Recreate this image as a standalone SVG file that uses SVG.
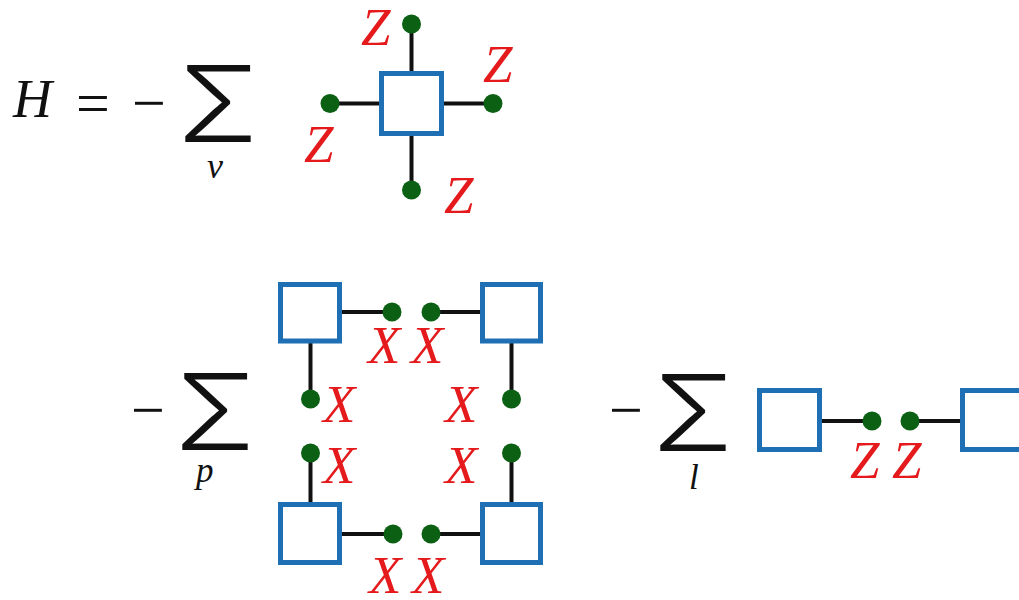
<svg xmlns="http://www.w3.org/2000/svg" width="1019" height="600" viewBox="0 0 1019 600">
<style>
.m{font-family:'Liberation Serif','DejaVu Serif',serif;fill:#111}
.i{font-style:italic}
.sig{font-family:'Inter','Liberation Serif',sans-serif;font-weight:300;font-size:106px;fill:#111;text-anchor:middle}
.lbl{font-family:'Liberation Serif','DejaVu Serif',serif;font-style:italic;font-size:53px;fill:#e41a1c}
.sq{fill:#fff;stroke:#1f6fb5;stroke-width:5}
.ln{stroke:#111;stroke-width:4;fill:none}
.dot{fill:#0b6014}
</style>
<rect width="1019" height="600" fill="#fff"/>
<g id="equation">
<text class="m i" x="13" y="117" font-size="54">H</text>
<text class="m" x="76" y="123" font-size="60">=</text>
<text class="m" x="132" y="123" font-size="60">−</text>
<text class="sig" transform="translate(218,142) scale(1.12,1)">Σ</text>
<text class="m i" x="207" y="178" font-size="36">v</text>
<text class="m" x="131" y="430" font-size="60">−</text>
<text class="sig" transform="translate(215,450) scale(1.12,1)">Σ</text>
<text class="m i" x="196" y="482" font-size="35">p</text>
<text class="m" x="609" y="430" font-size="60">−</text>
<text class="sig" transform="translate(693,451) scale(1.12,1)">Σ</text>
<text class="m i" x="689" y="489" font-size="35">l</text>
</g>
<g id="connectors">
<line class="ln" x1="411.5" y1="24" x2="411.5" y2="190"/>
<line class="ln" x1="330" y1="103.5" x2="493" y2="103.5"/>
<line class="ln" x1="342" y1="312" x2="392" y2="312"/>
<line class="ln" x1="431" y1="312" x2="480" y2="312"/>
<line class="ln" x1="310.5" y1="343" x2="310.5" y2="399"/>
<line class="ln" x1="511.5" y1="343" x2="511.5" y2="399"/>
<line class="ln" x1="310.5" y1="453" x2="310.5" y2="502"/>
<line class="ln" x1="511.5" y1="453" x2="511.5" y2="502"/>
<line class="ln" x1="342" y1="534" x2="393" y2="534"/>
<line class="ln" x1="431" y1="534" x2="480" y2="534"/>
<line class="ln" x1="822" y1="421" x2="872" y2="421"/>
<line class="ln" x1="910" y1="421" x2="960" y2="421"/>
</g>
<g id="vertex">
<rect class="sq" x="381.5" y="73.5" width="60" height="60"/>
<circle class="dot" cx="411.5" cy="24" r="9.5"/>
<circle class="dot" cx="330" cy="103.5" r="9.5"/>
<circle class="dot" cx="493" cy="103.5" r="9.5"/>
<circle class="dot" cx="411.5" cy="190" r="9.5"/>
<text class="lbl" x="361" y="45">Z</text>
<text class="lbl" x="483" y="82">Z</text>
<text class="lbl" x="304" y="162">Z</text>
<text class="lbl" x="444" y="213">Z</text>
</g>
<g id="plaquette">
<rect class="sq" x="280.5" y="284.5" width="59" height="56.5"/>
<rect class="sq" x="482.5" y="284.5" width="58" height="56.5"/>
<rect class="sq" x="280.5" y="504.5" width="59" height="58"/>
<rect class="sq" x="482.5" y="504.5" width="58" height="58"/>
<circle class="dot" cx="392" cy="312" r="9.5"/>
<circle class="dot" cx="431" cy="312" r="9.5"/>
<circle class="dot" cx="310.5" cy="399" r="9.5"/>
<circle class="dot" cx="511.5" cy="399" r="9.5"/>
<circle class="dot" cx="310.5" cy="453" r="9.5"/>
<circle class="dot" cx="511.5" cy="453" r="9.5"/>
<circle class="dot" cx="393" cy="534" r="9.5"/>
<circle class="dot" cx="431" cy="534" r="9.5"/>
<text class="lbl" x="368" y="363">X</text>
<text class="lbl" x="411" y="363">X</text>
<text class="lbl" x="323" y="422">X</text>
<text class="lbl" x="445" y="422">X</text>
<text class="lbl" x="323" y="483">X</text>
<text class="lbl" x="445" y="483">X</text>
<text class="lbl" x="369" y="593">X</text>
<text class="lbl" x="412" y="593">X</text>
</g>
<g id="link">
<rect class="sq" x="759.5" y="390.5" width="60" height="59"/>
<rect class="sq" x="962.5" y="390.5" width="60" height="59"/>
<circle class="dot" cx="872" cy="421" r="9.5"/>
<circle class="dot" cx="910" cy="421" r="9.5"/>
<text class="lbl" x="850" y="478">Z</text>
<text class="lbl" x="892" y="478">Z</text>
</g>
</svg>
